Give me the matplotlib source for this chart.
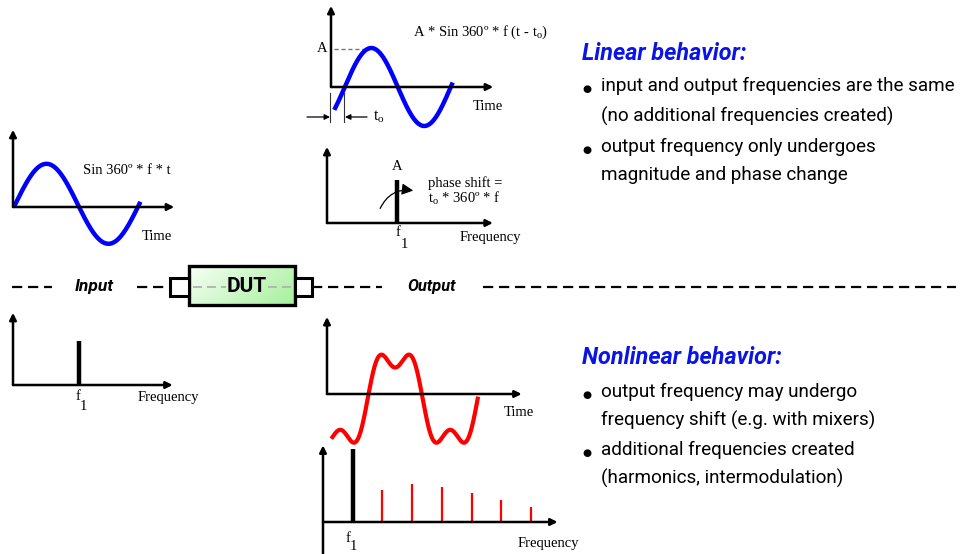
import numpy as np
import matplotlib.pyplot as plt
from matplotlib.patches import Rectangle, FancyArrowPatch
from matplotlib.colors import LinearSegmentedColormap

W, H = 963, 554
plt.rcParams['mathtext.fontset'] = 'custom'
plt.rcParams['mathtext.rm'] = 'Liberation Serif'

SERIF = 'Liberation Serif'
NARROW = ['Roboto', 'DejaVu Sans']

# ---- values ----
# input sine: time span drawn (periods), zero crossing offset
in_span = [0.02, 1.02]
in_delay = 0.02
# linear output sine: span, delay t_o (periods)
out_span = [0.04, 1.14]
out_delay = 0.13
# input / linear output spectra (f in units of f1)
in_freq = [1]
in_amp = [1]
lin_freq = [1]
lin_amp = [1]
# nonlinear output: fundamental + 3rd harmonic, span, delay
nl_span = [0.05, 1.37]
nl_delay = 0.37
nl_third = 1 / 3
nl_offset = -0.1
# nonlinear spectrum
nl_fund_freq = [1]
nl_fund_amp = [1]
harm_freq = [2, 3, 4, 5, 6, 7]
harm_amp = [0.44, 0.52, 0.48, 0.40, 0.30, 0.21]

linear_title = "Linear behavior:"
linear_lines = ["input and output frequencies are the same",
                "(no additional frequencies created)",
                "output frequency only undergoes",
                "magnitude and phase change"]
nonlinear_title = "Nonlinear behavior:"
nonlinear_lines = ["output frequency may undergo",
                   "frequency shift (e.g. with mixers)",
                   "additional frequencies created",
                   "(harmonics, intermodulation)"]

fig = plt.figure(figsize=(W / 100, H / 100), dpi=100)
ax0 = fig.add_axes([0, 0, 1, 1])
ax0.set_xlim(0, W)
ax0.set_ylim(H, 0)
ax0.axis('off')


def panel(ox, oy, sx, sy, xlim, ylim):
    # axes placed so that data (0,0) sits on pixel (ox, oy)
    left = ox + xlim[0] * sx
    right = ox + xlim[1] * sx
    top = oy - ylim[1] * sy
    bottom = oy - ylim[0] * sy
    a = fig.add_axes([left / W, 1 - bottom / H, (right - left) / W, (bottom - top) / H])
    a.set_xlim(xlim)
    a.set_ylim(ylim)
    a.axis('off')
    return a


def arrows(a, ymin=0):
    xmax = a.get_xlim()[1]
    ymax = a.get_ylim()[1]
    kw = dict(arrowstyle='-|>', color='k', lw=1.8, mutation_scale=10, shrinkA=0, shrinkB=0)
    a.annotate('', xy=(xmax, 0), xytext=(0, 0), arrowprops=kw, annotation_clip=False)
    a.annotate('', xy=(0, ymax), xytext=(0, ymin), arrowprops=kw, annotation_clip=False)


# input sine
p1 = panel(13, 207, 124, 40, (0, 1.3), (-1.2, 1.93))
t = np.linspace(in_span[0], in_span[1], 300)
p1.plot(t, np.sin(2 * np.pi * (t - in_delay)) + 0.08, color='#0000ff', lw=3.2, clip_on=False)
arrows(p1)

# linear output sine
p2 = panel(331, 87, 106, 39, (0, 1.53), (-1.2, 2.08))
t = np.linspace(out_span[0], out_span[1], 300)
p2.plot(t, np.sin(2 * np.pi * (t - out_delay)), color='#0000ff', lw=3.2, clip_on=False)
arrows(p2)

# linear output spectrum
p3 = panel(327, 223, 70, 43, (0, 2.37), (-0.2, 1.77))
p3.vlines(lin_freq, 0, lin_amp, color='k', lw=3.2)
arrows(p3)

# input spectrum
p4 = panel(13, 385, 66, 44, (0, 2.42), (-0.2, 1.64))
p4.vlines(in_freq, 0, in_amp, color='k', lw=3.2)
arrows(p4)

# nonlinear output waveform
p5 = panel(327, 394, 110, 46.7, (0, 1.77), (-1.2, 1.65))
t = np.linspace(nl_span[0], nl_span[1], 400)
th = 2 * np.pi * (t - nl_delay)
p5.plot(t, np.sin(th) + nl_third * np.sin(3 * th) + nl_offset, color='#ff0000', lw=3, clip_on=False)
arrows(p5)

# nonlinear spectrum
p6 = panel(323, 522, 29.7, 73, (0, 7.9), (-0.44, 1.05))
p6.vlines(nl_fund_freq, 0, nl_fund_amp, color='k', lw=3.2)
p6.vlines(harm_freq, 0, harm_amp, color='#ff0000', lw=1.6)
arrows(p6, ymin=-0.44)

# ---- labels on the little plots ----
st = dict(family=SERIF, fontsize=10.5, va='center')
ax0.text(413, 32, r"A * Sin 360º * f (t - t$_{\rm o}$)", ha='left', **st)
ax0.text(322, 48, "A", ha='center', **st)
ax0.plot([334, 370], [49, 49], color='#777777', lw=1, dashes=(3, 2))
ax0.text(473, 107, "Time", ha='left', **st)
ax0.plot([330, 330], [93, 122], color='#333333', lw=0.8)
ax0.plot([344, 344], [93, 122], color='#333333', lw=0.8)
akw = dict(arrowstyle='-|>', color='k', lw=0.9, mutation_scale=8, shrinkA=0, shrinkB=0)
ax0.annotate('', xy=(330, 117), xytext=(307, 117), arrowprops=akw)
ax0.annotate('', xy=(345, 117), xytext=(367, 117), arrowprops=akw)
ax0.text(373, 117, r"t$_{\rm o}$", ha='left', family=SERIF, fontsize=11.5, va='center')

ax0.text(397, 167, "A", ha='center', **st)
ax0.text(428, 183, "phase shift =", ha='left', **st)
ax0.text(428, 198, r"t$_{\rm o}$ * 360º * f", ha='left', **st)
ax0.add_patch(FancyArrowPatch((379, 211), (416, 191), connectionstyle='arc3,rad=-0.4',
                              arrowstyle='-|>', mutation_scale=17, lw=0.9, color='k'))
ax0.text(398, 232, "f", ha='center', **st)
ax0.text(404, 245, "1", ha='center', **st)
ax0.text(460, 238, "Frequency", ha='left', **st)

ax0.text(83, 171, "Sin 360º * f * t", ha='left', **st)
ax0.text(142, 236, "Time", ha='left', **st)

ax0.text(78, 397, "f", ha='center', **st)
ax0.text(83, 406, "1", ha='center', **st)
ax0.text(138, 398, "Frequency", ha='left', **st)

ax0.text(504, 412, "Time", ha='left', **st)
ax0.text(348, 538, "f", ha='center', **st)
ax0.text(353, 547, "1", ha='center', **st)
ax0.text(518, 543, "Frequency", ha='left', **st)

# ---- dashed signal path and DUT ----
dkw = dict(color='k', lw=1.6, dashes=(4.6, 2.6))
ax0.plot([12, 52], [287, 287], **dkw)
ax0.plot([137, 170], [287, 287], **dkw)
ax0.plot([312, 382], [287, 287], **dkw)
ax0.plot([483, 956], [287, 287], **dkw)
ax0.text(75, 286, "Input", family=NARROW, weight='bold', style='italic', fontsize=12.5,
         ha='left', va='center')
ax0.text(407, 286, "Output", family=NARROW, weight='bold', style='italic', fontsize=11.8,
         ha='left', va='center')

gx, gy = np.meshgrid(np.linspace(0, 1, 100), np.linspace(0, 1, 40))
cmap = LinearSegmentedColormap.from_list('dut', ['#f7fff5', '#a6f09c'])
ax0.imshow(0.7 * gx + 0.3 * gy, extent=(189, 295, 305, 266), origin='upper', cmap=cmap,
           aspect='auto', zorder=1)
ax0.set_xlim(0, W)
ax0.set_ylim(H, 0)
ax0.add_patch(Rectangle((189, 266), 106, 39, fill=False, ec='k', lw=2.4, zorder=3))
ax0.add_patch(Rectangle((170, 278), 19, 18, fc='white', ec='k', lw=2.2, zorder=3))
ax0.add_patch(Rectangle((295, 278), 17, 18, fc='white', ec='k', lw=2.2, zorder=3))
ax0.plot([193, 226], [287, 287], color='#b5b5b5', lw=1.4, dashes=(4.6, 2.6), zorder=2)
ax0.plot([268, 292], [287, 287], color='#b5b5b5', lw=1.4, dashes=(4.6, 2.6), zorder=2)
ax0.text(247, 287, "DUT", family=NARROW, weight='bold', fontsize=15, ha='center',
         va='center', zorder=4)

# ---- right hand text ----
tkw = dict(family=NARROW, weight='bold', style='italic', fontsize=16.8, color='#0a14e6',
           ha='left', va='center')
bkw = dict(family=NARROW, fontsize=13.6, color='k', ha='left', va='center')
ax0.text(582, 53, linear_title, **tkw)
for y, s in zip([86, 116, 147, 175], linear_lines):
    ax0.text(601, y, s, **bkw)
for y in [89, 150]:
    ax0.text(587, y, "●", family='DejaVu Sans', fontsize=7.5, ha='center', va='center')

ax0.text(582, 357, nonlinear_title, **tkw)
for y, s in zip([392, 420, 450, 478], nonlinear_lines):
    ax0.text(601, y, s, **bkw)
for y in [395, 453]:
    ax0.text(587, y, "●", family='DejaVu Sans', fontsize=7.5, ha='center', va='center')

fig.savefig('out.png', dpi=100)
